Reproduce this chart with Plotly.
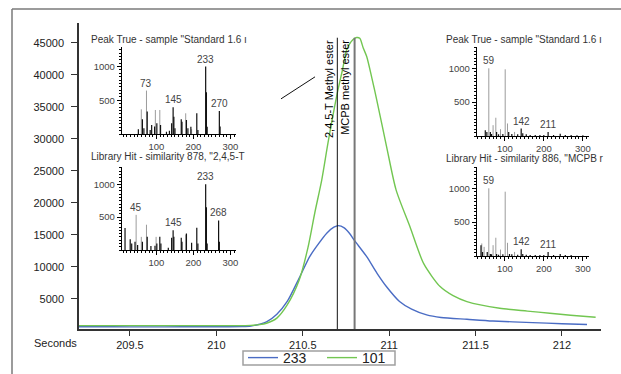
import plotly.graph_objects as go

W, H = 621, 374
FONT = "Liberation Sans, Arial, sans-serif"

# ---------------- main chromatogram data ----------------
t_233 = [209.205, 209.4, 209.6, 209.8, 210.0, 210.15, 210.2, 210.25, 210.29, 210.35, 210.41,
         210.48, 210.54, 210.58, 210.64, 210.68, 210.706, 210.74, 210.77, 210.80, 210.87, 210.93,
         210.985, 211.06, 211.13, 211.217, 211.3, 211.45, 211.6, 211.83, 212.0, 212.145]
v_233 = [640, 640, 630, 640, 650, 680, 760, 1050, 1400, 2600, 4600,
         8300, 11600, 13200, 15300, 16200, 16450, 16100, 15250, 14100, 11600, 9000,
         6900, 4600, 3400, 2500, 2100, 1820, 1550, 1300, 1130, 1000]

t_101 = [209.205, 209.4, 209.6, 209.8, 210.0, 210.15, 210.2, 210.25, 210.29, 210.35, 210.41,
         210.48, 210.53, 210.57, 210.61, 210.646, 210.70, 210.73, 210.754, 210.79, 210.812, 210.83,
         210.85, 210.87, 210.90, 210.928, 210.985, 211.04, 211.12, 211.2, 211.295, 211.37, 211.45,
         211.64, 211.8, 211.93, 212.05, 212.195]
v_101 = [820, 820, 820, 820, 820, 830, 860, 980, 1200, 2000, 4060,
         8000, 13000, 18500, 23600, 29370, 37180, 40800, 43900, 45500, 45830, 45700,
         44200, 42860, 39500, 36100, 28800, 22030, 16300, 10500, 6920, 5500, 4580,
         3540, 3100, 2760, 2450, 2130]

marker_names = ["2,4,5-T Methyl ester", "MCPB methyl ester"]
marker_times = [210.70, 210.80]
marker_top = 45800
pointer_t = [210.374, 210.571]
pointer_v = [36250, 39690]

x_ticks = [209.5, 210, 210.5, 211, 211.5, 212]
x_tick_labels = ["209.5", "210", "210.5", "211", "211.5", "212"]
y_ticks = [5000, 10000, 15000, 20000, 25000, 30000, 35000, 40000, 45000]
y_tick_labels = ["5000", "10000", "15000", "20000", "25000", "30000", "35000", "40000", "45000"]

# ---------------- inset spectra ----------------
# inset 1: Peak True (2,4,5-T)
s1_title = 'Peak True - sample "Standard 1.6 ı'
s1_gray_mz = [59, 73, 97, 109, 179, 195]
s1_gray_h = [366, 644, 356, 356, 307, 70]
s1_black_mz = [51, 62, 66, 75, 83, 87, 95, 101, 111, 127, 135, 141, 145, 147, 150, 167, 169,
               181, 185, 193, 209, 212, 233, 235, 237, 270, 272]
s1_black_h = [70, 218, 84, 332, 60, 134, 110, 160, 134, 35, 50, 160, 396, 257, 84, 218, 183,
              208, 84, 109, 307, 60, 1000, 619, 109, 342, 110]
s1_labels = [73, 145, 233, 270]

# inset 2: Library Hit (2,4,5-T)
s2_title = 'Library Hit - similarity 878, "2,4,5-T'
s2_gray_mz = [45, 59, 73, 99, 179]
s2_gray_h = [535, 200, 385, 200, 235]
s2_black_mz = [15, 29, 33, 42, 49, 62, 75, 85, 96, 101, 109, 112, 132, 141, 145, 147, 167, 169,
               181, 195, 209, 212, 233, 235, 237, 268, 270]
s2_black_h = [335, 165, 100, 125, 75, 125, 200, 60, 65, 100, 200, 100, 35, 185, 300, 200, 185, 125,
              250, 110, 340, 100, 1000, 650, 100, 450, 125]
s2_labels = [45, 145, 233, 268]

# inset 3: Peak True (MCPB)
s3_title = 'Peak True - sample "Standard 1.6 ı'
s3_gray_mz = [59, 70, 77, 89, 101, 107, 125]
s3_gray_h = [1000, 160, 270, 100, 985, 185, 60]
s3_black_mz = [50, 54, 63, 66, 79, 84, 95, 110, 118, 133, 142, 146, 155, 165, 178, 190, 200, 211,
               225, 242, 255, 270, 285, 300]
s3_black_h = [85, 60, 60, 30, 60, 25, 30, 60, 30, 25, 110, 40, 25, 15, 15, 15, 15, 60,
              15, 35, 15, 15, 10, 10]
s3_labels = [59, 142, 211]

# inset 4: Library Hit (MCPB)
s4_title = 'Library Hit - similarity 886, "MCPB r'
s4_gray_mz = [41, 47, 59, 70, 77, 89, 101, 107, 125]
s4_gray_h = [185, 135, 1000, 160, 270, 95, 950, 195, 60]
s4_black_mz = [39, 43, 55, 63, 66, 79, 84, 95, 112, 118, 133, 142, 146, 155, 165, 178, 190, 200,
               211, 225, 242, 255, 270]
s4_black_h = [160, 60, 60, 30, 25, 30, 20, 25, 30, 25, 20, 100, 30, 20, 15, 15, 15, 15,
              60, 15, 30, 15, 15]
s4_labels = [59, 142, 211]


def xd(a, b):
    return [a / W, b / W]


def yd(top, bottom):
    return [1 - bottom / H, 1 - top / H]


def sticks(mz, h):
    xs, ys = [], []
    for m, v in zip(mz, h):
        xs += [m, m, None]
        ys += [0, v, None]
    return xs, ys


fig = go.Figure()

# main traces
fig.add_trace(go.Scatter(x=t_233, y=v_233, mode="lines", name="233",
                         line=dict(color="#4a6cc4", width=1.4, shape="spline", smoothing=0.7),
                         xaxis="x", yaxis="y"))
fig.add_trace(go.Scatter(x=t_101, y=v_101, mode="lines", name="101",
                         line=dict(color="#72c651", width=1.4, shape="spline", smoothing=0.7),
                         xaxis="x", yaxis="y"))

marker_styles = [dict(color="#111111", width=1), dict(color="#777777", width=2)]
for t, st in zip(marker_times, marker_styles):
    fig.add_trace(go.Scatter(x=[t, t], y=[300, marker_top], mode="lines", line=st,
                             showlegend=False, hoverinfo="skip", xaxis="x", yaxis="y"))

fig.add_trace(go.Scatter(x=pointer_t, y=pointer_v, mode="lines",
                         line=dict(color="#111111", width=1), showlegend=False,
                         hoverinfo="skip", xaxis="x", yaxis="y"))

for t, name in zip(marker_times, marker_names):
    fig.add_annotation(x=t, y=marker_top, xref="x", yref="y", text=name, textangle=-90,
                       xanchor="right", yanchor="top", showarrow=False, xshift=-1,
                       font=dict(family=FONT, size=11, color="#000"))

# insets
insets = [
    dict(ax="2", title=s1_title, gmz=s1_gray_mz, gh=s1_gray_h, bmz=s1_black_mz, bh=s1_black_h,
         labels=s1_labels, dx=(121.7, 236), dy=(47, 134), xr=[6, 315], yr=[0, 1290],
         title_xy=(89, 40)),
    dict(ax="3", title=s2_title, gmz=s2_gray_mz, gh=s2_gray_h, bmz=s2_black_mz, bh=s2_black_h,
         labels=s2_labels, dx=(121.7, 236), dy=(166.7, 250), xr=[6, 315], yr=[0, 1268],
         title_xy=(89, 156.5)),
    dict(ax="4", title=s3_title, gmz=s3_gray_mz, gh=s3_gray_h, bmz=s3_black_mz, bh=s3_black_h,
         labels=s3_labels, dx=(476.7, 588.7), dy=(46.7, 136), xr=[28, 315], yr=[0, 1319],
         title_xy=(444, 40)),
    dict(ax="5", title=s4_title, gmz=s4_gray_mz, gh=s4_gray_h, bmz=s4_black_mz, bh=s4_black_h,
         labels=s4_labels, dx=(476.7, 588.7), dy=(166.7, 256), xr=[28, 315], yr=[0, 1319],
         title_xy=(444, 158)),
]

layout_axes = {}
for ins in insets:
    a = ins["ax"]
    gx, gy = sticks(ins["gmz"], ins["gh"])
    bx, by = sticks(ins["bmz"], ins["bh"])
    fig.add_trace(go.Scatter(x=gx, y=gy, mode="lines", line=dict(color="#9c9c9c", width=1),
                             showlegend=False, hoverinfo="skip", xaxis="x" + a, yaxis="y" + a))
    fig.add_trace(go.Scatter(x=bx, y=by, mode="lines", line=dict(color="#111111", width=1.2),
                             showlegend=False, hoverinfo="skip", xaxis="x" + a, yaxis="y" + a))
    allmz = ins["gmz"] + ins["bmz"]
    allh = ins["gh"] + ins["bh"]
    for lab in ins["labels"]:
        hh = max(v for m, v in zip(allmz, allh) if m == lab)
        fig.add_annotation(x=lab, y=hh, xref="x" + a, yref="y" + a, text=str(lab),
                           showarrow=False, yanchor="bottom", xanchor="center",
                           font=dict(family=FONT, size=10, color="#444"))
    tx, ty = ins["title_xy"]
    fig.add_annotation(x=tx / W, y=1 - ty / H, xref="paper", yref="paper", text=ins["title"],
                       showarrow=False, xanchor="left", yanchor="middle",
                       font=dict(family=FONT, size=10, color="#333"))
    layout_axes["xaxis" + a] = dict(
        domain=xd(*ins["dx"]), range=ins["xr"], anchor="y" + a, showgrid=False, zeroline=False,
        showline=True, linecolor="#000", linewidth=1, ticks="outside", ticklen=4,
        tickcolor="#000", tickvals=[100, 200, 300], ticktext=["100", "200", "300"],
        tickfont=dict(family=FONT, size=9.5, color="#444"),
        minor=dict(dtick=10, tick0=0, ticks="outside", ticklen=2, tickcolor="#000"),
        fixedrange=True)
    layout_axes["yaxis" + a] = dict(
        domain=yd(*ins["dy"]), range=ins["yr"], anchor="x" + a, showgrid=False, zeroline=False,
        showline=True, linecolor="#000", linewidth=1, ticks="outside", ticklen=4,
        tickcolor="#000", tickvals=[500, 1000], ticktext=["500", "1000"],
        tickfont=dict(family=FONT, size=9.5, color="#444"),
        minor=dict(dtick=50, tick0=0, ticks="outside", ticklen=2, tickcolor="#000"),
        fixedrange=True)

fig.add_annotation(x=55 / W, y=1 - 343 / H, xref="paper", yref="paper", text="Seconds",
                   showarrow=False, xanchor="center", yanchor="middle",
                   font=dict(family=FONT, size=11, color="#222"))

# outer frame lines
fig.add_shape(type="line", xref="paper", yref="paper", x0=12 / W, x1=12 / W, y0=0, y1=1 - 9 / H,
              line=dict(color="#7a7a7a", width=1.5))
fig.add_shape(type="line", xref="paper", yref="paper", x0=12 / W, x1=1, y0=1 - 9 / H, y1=1 - 9 / H,
              line=dict(color="#7a7a7a", width=1.5))
# legend frame
fig.add_shape(type="rect", xref="paper", yref="paper", x0=243 / W, x1=395 / W,
              y0=1 - 365 / H, y1=1 - 351 / H, line=dict(color="#a0a0a0", width=1.5),
              fillcolor="rgba(0,0,0,0)")

fig.update_layout(
    width=W, height=H, margin=dict(l=0, r=0, t=0, b=0, autoexpand=False),
    paper_bgcolor="white", plot_bgcolor="rgba(0,0,0,0)",
    font=dict(family=FONT, size=11, color="#222"),
    xaxis=dict(domain=xd(79, 601), range=[209.205, 212.226], showgrid=False, zeroline=False,
               showline=True, linecolor="#333", linewidth=1.5, ticks="outside", ticklen=5,
               tickcolor="#333", tickvals=x_ticks, ticktext=x_tick_labels,
               tickfont=dict(family=FONT, size=11, color="#222"), anchor="y", fixedrange=True),
    yaxis=dict(domain=yd(23, 329), range=[300, 48100], showgrid=False, zeroline=False,
               showline=True, linecolor="#333", linewidth=1.5, ticks="outside", ticklen=6,
               tickcolor="#333", tickvals=y_ticks, ticktext=y_tick_labels,
               ticklabelstandoff=5,
               tickfont=dict(family=FONT, size=11, color="#222"), anchor="x", fixedrange=True),
    showlegend=True,
    legend=dict(orientation="h", x=243 / W, y=1 - 358 / H, xanchor="left", yanchor="middle",
                borderwidth=0, bgcolor="rgba(0,0,0,0)",
                font=dict(family=FONT, size=14, color="#222"),
                entrywidth=34, entrywidthmode="pixels", itemwidth=30,
                tracegroupgap=0),
    **layout_axes,
)

fig.write_html("out.html")
